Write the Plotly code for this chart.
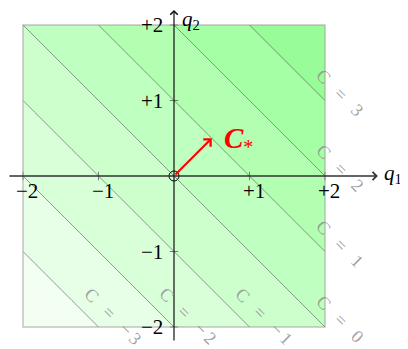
import numpy as np
import plotly.graph_objects as go

# ---- data ----
q_grid = [-2.0, -1.0, 0.0, 1.0, 2.0]          # domain of q1 and q2
levels = [-3, -2, -1, 0, 1, 2, 3]              # contour levels C = q1 + q2
band_colors = ["#f2fff2", "#e6ffe6", "#d9ffd9", "#ccffcc",
               "#bfffbf", "#b2ffb2", "#a5ffa5", "#98fc98"]
tick_vals = [-2, -1, 1, 2]
x_tick_text = ["−2", "−1", "+1", "+2"]
y_tick_text = ["−2", "−1", "+1", "+2"]
c_star = [0.5, 0.5]
right_label_levels = [3, 2, 1, 0]
bottom_label_levels = [-3, -2, -1]

FONT = "Liberation Serif"

q = np.linspace(min(q_grid), max(q_grid), 81)
Q1, Q2 = np.meshgrid(q, q)
Z = Q1 + Q2

n = len(band_colors) - 1
colorscale = [[i / n, c] for i, c in enumerate(band_colors)]

fig = go.Figure()
fig.add_trace(go.Contour(
    x=q, y=q, z=Z,
    autocontour=False,
    contours=dict(start=levels[0], end=levels[-1], size=1,
                  coloring="fill", showlines=True),
    colorscale=colorscale,
    line=dict(color="rgba(70,70,70,0.55)", width=1),
    showscale=False, hoverinfo="skip",
))

lo, hi = min(q_grid), max(q_grid)
# square border
fig.add_shape(type="rect", x0=lo, y0=lo, x1=hi, y1=hi,
              line=dict(color="rgba(150,150,150,0.55)", width=1.5), layer="above")

# axes
ax_x0, ax_x1, ax_y0, ax_y1 = -2.2, 2.7, -2.2, 2.2
ann = []
ann.append(dict(x=ax_x1, y=0, ax=ax_x0, ay=0, axref="x", ayref="y", xref="x", yref="y",
                text="", showarrow=True, arrowhead=4, arrowsize=1.2, arrowwidth=1.3,
                arrowcolor="#333", standoff=0))
ann.append(dict(x=0, y=ax_y1, ax=0, ay=ax_y0, axref="x", ayref="y", xref="x", yref="y",
                text="", showarrow=True, arrowhead=4, arrowsize=1.2, arrowwidth=1.2,
                arrowcolor="#111", standoff=0))
# axis labels
ann.append(dict(x=ax_x1, y=0, xref="x", yref="y", text="<i>q</i><sub>1</sub>",
                showarrow=False, xanchor="left", yanchor="middle", xshift=4, yshift=2,
                font=dict(family=FONT, size=21, color="black")))
ann.append(dict(x=0, y=1, xref="x", yref="paper", text="<i>q</i><sub>2</sub>",
                showarrow=False, xanchor="left", yanchor="top", xshift=6, yshift=3,
                font=dict(family=FONT, size=21, color="black")))
# tick labels
for t, s in zip(tick_vals, x_tick_text):
    ann.append(dict(x=t, y=0, xref="x", yref="y", text=s, showarrow=False,
                    xanchor="center", yanchor="middle", xshift=4, yshift=-15,
                    font=dict(family=FONT, size=21, color="black")))
for t, s in zip(tick_vals, y_tick_text):
    ann.append(dict(x=0, y=t, xref="x", yref="y", text=s, showarrow=False,
                    xanchor="right", yanchor="middle", xshift=-9, yshift=0,
                    font=dict(family=FONT, size=21, color="black")))
# C* vector
ann.append(dict(x=c_star[0], y=c_star[1], ax=0, ay=0, axref="x", ayref="y",
                xref="x", yref="y", text="", showarrow=True, arrowhead=4,
                arrowsize=1.0, arrowwidth=2, arrowcolor="red", standoff=0))
ann.append(dict(x=c_star[0], y=c_star[1], xref="x", yref="y",
                text="<b><i>C</i></b><sub>*</sub>", showarrow=False,
                xanchor="left", yanchor="middle", xshift=10, yshift=-2,
                font=dict(family=FONT, size=29, color="red")))

# contour labels
def lab(c):
    s = str(c).replace("-", "−\u2009")
    return "C\u2002\u2005=\u2002\u2005" + s

lab_font = dict(family=FONT, size=18, color="rgba(150,150,150,0.9)")
for c in right_label_levels:
    ann.append(dict(x=hi, y=c - hi, xref="x", yref="y", text=lab(c), showarrow=False,
                    textangle=45, xanchor="center", yanchor="middle", xshift=15, yshift=8,
                    font=lab_font))
for c in bottom_label_levels:
    ann.append(dict(x=c - lo, y=lo, xref="x", yref="y", text=lab(c), showarrow=False,
                    textangle=45, xanchor="center", yanchor="middle", xshift=14, yshift=11,
                    font=lab_font))

# tick marks and origin circle
fig.add_trace(go.Scatter(x=tick_vals, y=[0] * len(tick_vals), mode="markers",
                         marker=dict(symbol="line-ns", size=6, color="rgba(90,90,90,0.8)",
                                     line=dict(width=1, color="rgba(90,90,90,0.8)")),
                         hoverinfo="skip", cliponaxis=False))
fig.add_trace(go.Scatter(x=[0] * len(tick_vals), y=tick_vals, mode="markers",
                         marker=dict(symbol="line-ew", size=6, color="rgba(90,90,90,0.8)",
                                     line=dict(width=1, color="rgba(90,90,90,0.8)")),
                         hoverinfo="skip", cliponaxis=False))
fig.add_trace(go.Scatter(x=[0], y=[0], mode="markers",
                         marker=dict(symbol="circle-open", size=10, color="black",
                                     line=dict(width=1, color="black")),
                         hoverinfo="skip", cliponaxis=False))

# page has an 8px body margin: figure is 400x341, origin at page (174,176)
scale = 75.5
ox, oy = 166, 168
W, H = 400, 341
fig.update_layout(
    width=W, height=H,
    margin=dict(l=0, r=0, t=0, b=0),
    paper_bgcolor="white", plot_bgcolor="white",
    showlegend=False,
    annotations=ann,
    xaxis=dict(range=[-ox / scale, (W - ox) / scale], visible=False, fixedrange=True),
    yaxis=dict(range=[-(H - oy) / scale, oy / scale], visible=False, fixedrange=True),
)

fig.write_html("out.html")
